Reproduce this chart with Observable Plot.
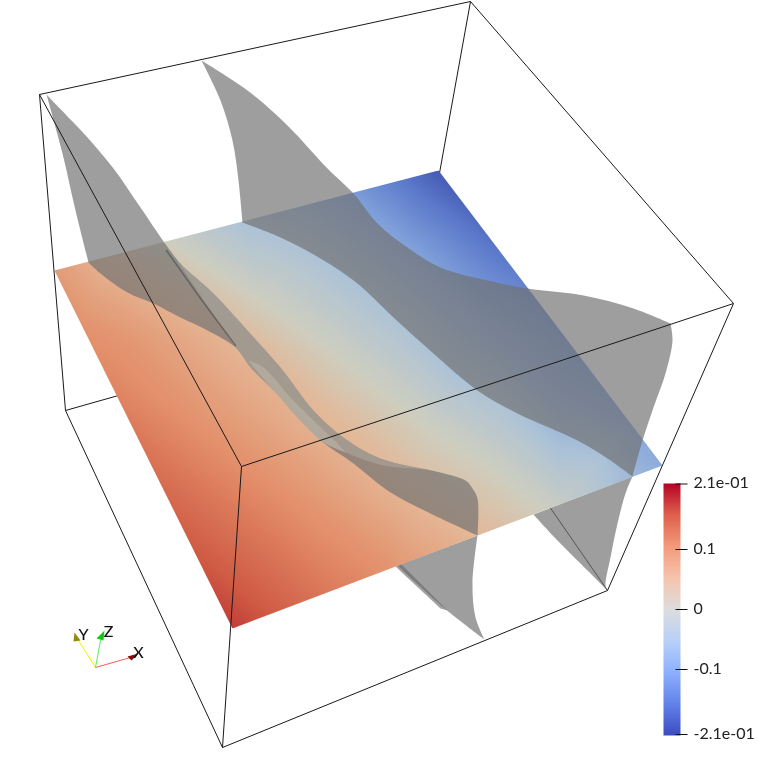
<!DOCTYPE html>
<html><head><meta charset="utf-8">
<style>html,body{margin:0;padding:0;background:#fff}svg{display:block}</style>
<script src="https://cdn.jsdelivr.net/npm/d3@7"></script>
<script src="https://cdn.jsdelivr.net/npm/@observablehq/plot@0.6"></script>
</head><body><div id="chart"></div>
<script>
// Projected coordinates (screen units)
const boxBack = [
  [[65,410],[414,311]], [[414,311],[607,590]], [[470,1],[414,311]]
];
const boxFront = [
  [[39,94],[470,1]], [[470,1],[733,303]], [[733,303],[241,466]], [[241,466],[39,94]],
  [[39,94],[65,410]], [[241,466],[222,747]], [[733,303],[607,590]],
  [[65,410],[222,747]], [[222,747],[607,590]]
];
const planeCorners = [[54,270],[438,170],[662,465],[232,628]];
// x, y, scalar value on the slice
const planeSamples = [
  [54,270,.09],[110,255,.05],[166,241,0],[242,222,-.05],[300,206,-.08],[353,192,-.115],[400,180,-.155],[438,170,-.19],
  [490,238,-.165],[527,287,-.145],[580,357,-.12],[630,423,-.1],[662,465,-.09],
  [632,476,-.07],[557,505,-.01],[477,535,.05],[400,564,.09],[330,591,.125],[232,628,.175],
  [190,545,.155],[150,465,.135],[110,385,.115],[80,322,.1],
  [200,262,0],[260,300,0],[330,350,0],[430,430,0],
  [310,250,-.05],[400,320,-.05],[500,400,-.05],[600,460,-.05],
  [175,295,.05],[240,340,.05],[330,420,.05],[410,490,.05],
  [130,340,.095],[200,410,.095],[300,500,.1],[385,565,.1],
  [400,250,-.1],[480,320,-.1],[560,390,-.1]
];
const sheet1Upper = [
  [46,94],[46,94],[70,119],[87,137],[113,168],[140,207],[166,245],[180,263],[213,293],[247,330],[280,367],[313,410],[343,437],
  [380,458],[440,472],[465,480],[472,488],[477,498],[477,535],[477,535],
  [430,513],[387,490],[353,463],[320,440],[297,417],[273,390],[250,367],[235,347],[207,330],[180,317],[153,303],[127,292],[100,273],[88,262],[88,262],
  [75,210],[62,153],[46,94],[46,94]
];
const sheet2Upper = [
  [201,60],[201,60],[247,90],[287,125],[327,168],[353,193],[377,223],[407,247],[440,267],[487,280],[527,288],[583,295],[633,308],[670,323],[670,323],[672,340],[665,373],[653,407],[642,440],[632,476],[632,476],
  [610,460],[577,440],[517,413],[477,390],[433,353],[393,317],[357,283],[320,258],[280,237],[242,222],[242,222],
  [238,180],[232,140],[220,100],[201,60],[201,60]
];
const sheet1Lower = [[477,535],[477,535],[472,583],[475,617],[484,639],[484,639],[443,607],[397,565],[397,565],[477,535],[477,535]];
const sheet1Sliver = [[395,566],[440,608],[447,610],[401,564]];
const sheet2Lower = [[632,476],[632,476],[625,493],[617,523],[610,557],[605,585],[607,590],[607,590],[580,563],[557,540],[533,514],[533,514],[632,476],[632,476]];
const foldBand = [
  [168,247],[168,247],[180,263],[213,293],[247,330],[280,367],[313,410],[343,437],[380,458],[440,472],[465,480],[465,480],
  [433,470],[383,465],[345,452],[320,440],[297,417],[273,390],[250,367],[235,347],[235,347],[168,247],[168,247]
];
const foldBright = [[248,360],[248,360],[263,367],[290,397],[313,420],[337,443],[345,452],[345,452],[320,440],[297,417],[273,390],[248,360],[248,360]];
const foldLine = [[166,250],[200,298],[235,345]];

// Colour bar
const colorStops = [-.21,-.1575,-.105,-.0525,0,.0525,.105,.1575,.21];
const colorRange = ["#3b4cc0","#6282ea","#8db0fe","#b8d0f9","#dddddd","#f5c4ad","#f49a7b","#de604d","#b40426"];
const barSamples = [[663,483,.21],[680,483,.21],[663,549,.1],[680,549,.1],[663,609,0],[680,609,0],[663,669,-.1],[680,669,-.1],[663,735,-.21],[680,735,-.21]];
const tickLabels = ["2.1e-01","0.1","0","-0.1","-2.1e-01"];
const tickYs = [483.5,549,609,669,734];

// Orientation triad
const axisLines = [
  {name:"X",color:"#ff5a5a",from:[95,667],to:[130,657]},
  {name:"Y",color:"#f2f200",from:[95,667],to:[78,640]},
  {name:"Z",color:"#55ee55",from:[95,667],to:[100,640]}
];
const axisCones = [
  {color:"#8b0a0a",pts:[[127,656],[138,653],[131,660]]},
  {color:"#8f8a10",pts:[[74,632],[80,640],[73,641]]},
  {color:"#10cc10",pts:[[104,630],[103,640],[96,638]]}
];
const axisLabels = [["X",138,652],["Y",83,634],["Z",108,631]];

const poly = (pts, o) => Plot.line(pts, {x:d=>d[0], y:d=>d[1], stroke:"none", ...o});
const sheetStyle = {fill:"#707070", fillOpacity:.68, curve:"catmull-rom"};
const seg = (s, o) => Plot.link(s, {x1:d=>d[0][0], y1:d=>d[0][1], x2:d=>d[1][0], y2:d=>d[1][1], stroke:"#1a1a1a", strokeWidth:1, ...o});

const chart = Plot.plot({
  width:758, height:763, margin:0,
  style:{background:"#fff"},
  x:{domain:[0,758], range:[0,758], axis:null},
  y:{domain:[0,763], range:[0,763], axis:null},
  color:{type:"linear", domain:colorStops, range:colorRange, clamp:true, legend:false},
  marks:[
    seg(boxBack),
    poly(sheet1Lower, sheetStyle),
    poly(sheet1Sliver, {fill:"#666", fillOpacity:.6}),
    poly(sheet2Lower, sheetStyle),
    Plot.raster(planeSamples, {
      x:d=>d[0], y:d=>d[1], fill:d=>d[2], interpolate:"barycentric",
      x1:0, x2:758, y1:0, y2:763,
      clip:{type:"Polygon", coordinates:[[...planeCorners, planeCorners[0]]]}
    }),
    poly([...planeCorners, planeCorners[0]], {fill:"#eeeedd", mixBlendMode:"multiply"}),
    poly(sheet1Upper, sheetStyle),
    poly(sheet2Upper, sheetStyle),
    poly(foldBand, {fill:"#bebeb4", fillOpacity:.35, curve:"catmull-rom"}),
    poly(foldBright, {fill:"#d8d0c0", fillOpacity:.3, curve:"catmull-rom"}),
    Plot.line(foldLine, {x:d=>d[0], y:d=>d[1], stroke:"#555", strokeWidth:1.6, strokeOpacity:.7}),
    seg(boxFront),
    // colour bar
    Plot.raster(barSamples, {x:d=>d[0], y:d=>d[1], fill:d=>d[2], interpolate:"barycentric", x1:663, x2:680, y1:483, y2:735}),
    Plot.link(tickYs, {x1:675, x2:687, y1:d=>d, y2:d=>d, stroke:"#111", strokeWidth:1}),
    Plot.text(tickLabels, {x:693, y:(d,i)=>tickYs[i], dy:-1, text:d=>d, textAnchor:"start", fontSize:16, fontFamily:"Lato", fill:"#222"}),
    // triad
    ...axisLines.map(a=>Plot.line([a.from,a.to],{x:d=>d[0],y:d=>d[1],stroke:a.color,strokeWidth:1})),
    ...axisCones.map(c=>poly(c.pts,{fill:c.color})),
    Plot.text(axisLabels,{x:d=>d[1],y:d=>d[2],text:d=>d[0],fontSize:16,fontFamily:"Lato",fontWeight:500,fill:"#111"})
  ]
});
document.getElementById("chart").append(chart);
</script></body></html>
